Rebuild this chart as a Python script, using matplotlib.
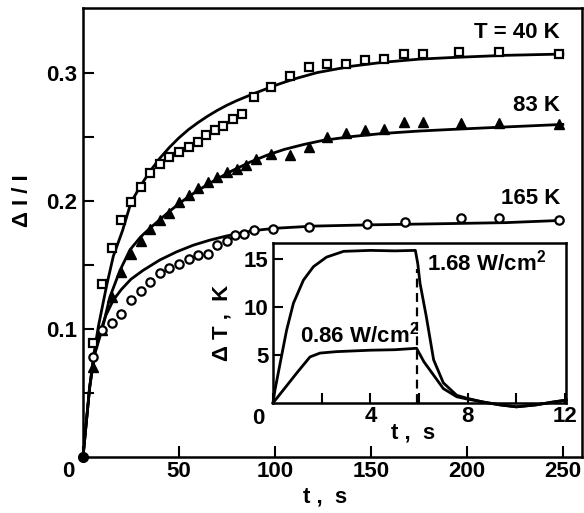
import matplotlib
matplotlib.use("Agg")
import matplotlib.pyplot as plt
import matplotlib.transforms as mtransforms

plt.rcParams['font.family'] = ['Liberation Sans', 'DejaVu Sans']
plt.rcParams['font.weight'] = 'bold'
plt.rcParams['font.size'] = 16
plt.rcParams['mathtext.fontset'] = 'custom'
plt.rcParams['mathtext.rm'] = 'Liberation Sans:bold'
plt.rcParams['mathtext.bf'] = 'Liberation Sans:bold'
plt.rcParams['mathtext.it'] = 'Liberation Sans:bold'
plt.rcParams['mathtext.default'] = 'rm'

# ---- main panel: relative photocurrent change vs time ----
t40 = [5, 10, 15, 20, 25, 30, 35, 40, 45, 50, 55, 60, 64, 69, 73, 78, 83, 89, 98, 108,
       118, 127, 137, 147, 157, 167, 177, 196, 217, 248]
v40 = [0.089, 0.135, 0.163, 0.185, 0.1995, 0.211, 0.222, 0.229, 0.2346, 0.2385, 0.2424,
       0.2463, 0.2516, 0.2555, 0.259, 0.2646, 0.2685, 0.2815, 0.2893, 0.298,
       0.3045, 0.307, 0.3076, 0.3106, 0.3114, 0.3148, 0.3148, 0.3166, 0.3166, 0.3154]

t83 = [5, 10, 15, 20, 25, 30, 35, 40, 45, 50, 55, 60, 65, 70, 75, 80, 85, 90, 98, 108,
       118, 127, 137, 147, 157, 167, 177, 197, 217, 248]
v83 = [0.07, 0.099, 0.125, 0.145, 0.159, 0.169, 0.178, 0.185, 0.191, 0.199, 0.205, 0.21,
       0.215, 0.219, 0.223, 0.2255, 0.228, 0.233, 0.237, 0.236,
       0.242, 0.2503, 0.2529, 0.2555, 0.2568, 0.262, 0.262, 0.261, 0.261, 0.26]

t165 = [5, 10, 15, 20, 25, 30, 35, 40, 45, 50, 55, 60, 65, 70, 75, 79, 84, 89, 99,
        118, 148, 168, 197, 217, 248]
v165 = [0.078, 0.099, 0.1044, 0.112, 0.1227, 0.13, 0.137, 0.1438, 0.148, 0.151, 0.155,
        0.158, 0.159, 0.1656, 0.169, 0.1735, 0.174, 0.1773, 0.178,
        0.18, 0.1825, 0.1838, 0.1865, 0.1865, 0.185]

# fitted curves
fit40_t = [0, 3.3, 5.4, 8, 12.3, 15.8, 20.6, 25, 30, 35, 40, 45, 50, 55, 60, 65, 70, 75,
           80, 88, 95, 102, 110, 122, 140, 156, 175, 191, 220, 250]
fit40_v = [0, 0.052, 0.078, 0.102, 0.134, 0.157, 0.177, 0.199, 0.212, 0.2235, 0.2335,
           0.242, 0.2495, 0.256, 0.2615, 0.2665, 0.271, 0.275, 0.2785, 0.2835, 0.2875,
           0.2915, 0.2955, 0.3005, 0.3055, 0.3085, 0.311, 0.3122, 0.314, 0.315]

fit83_t = [0, 3.5, 6, 10, 14, 19.3, 24.5, 30, 35, 40, 45, 50, 55, 60, 65, 70, 78, 87, 96,
           105, 115, 125, 140, 156, 175, 191, 220, 250]
fit83_v = [0, 0.055, 0.08, 0.1, 0.125, 0.146, 0.162, 0.172, 0.179, 0.1855, 0.192, 0.198,
           0.2035, 0.2085, 0.213, 0.2175, 0.224, 0.2305, 0.236, 0.2405, 0.2443, 0.2475,
           0.2505, 0.2529, 0.2548, 0.256, 0.258, 0.26]

fit165_t = [0, 3.5, 6, 9, 12, 15.8, 20, 25, 31.4, 40, 48.8, 57.5, 66, 74.8, 85.3, 92, 100,
            120, 150, 180, 220, 250]
fit165_v = [0, 0.055, 0.08, 0.098, 0.111, 0.1227, 0.131, 0.139, 0.146, 0.154, 0.1604,
            0.1656, 0.1695, 0.1728, 0.176, 0.1775, 0.1788, 0.1805, 0.1815, 0.1822, 0.1832,
            0.185]

x_ticks = [0, 50, 100, 150, 200, 250]
y_ticks = [0.05, 0.1, 0.15, 0.2, 0.25, 0.3]
y_tick_labels = ["", "0.1", "", "0.2", "", "0.3"]
labels_T = ["T = 40 K", "83 K", "165 K"]
label_T_y = [0.332, 0.275, 0.2023]

# ---- inset: temperature rise during the light pulse ----
ins_hi_t = [0, 0.08, 0.29, 0.56, 0.84, 1.25, 1.66, 2.2, 2.9, 4.0, 5.0, 5.85, 5.95, 6.04,
            6.3, 6.6, 7.0, 7.55, 7.96, 8.64, 9.34, 10.0, 10.8, 11.5, 12.05]
ins_hi_k = [0, 1.35, 4.1, 7.6, 10.4, 12.8, 14.2, 15.2, 15.8, 15.9, 15.85, 15.9, 14.5, 12.5,
            9.0, 4.5, 2.1, 0.8, 0.5, 0.1, -0.2, -0.4, -0.2, 0.1, 0.3]
ins_lo_t = [0, 0.5, 1.0, 1.52, 1.93, 2.6, 4.0, 5.0, 5.9, 6.2, 6.6, 7.0, 7.55, 8.0, 8.64,
            9.34, 10.0, 10.8, 11.5, 12.05]
ins_lo_k = [0, 1.6, 3.2, 4.8, 5.2, 5.35, 5.5, 5.55, 5.7, 4.3, 2.9, 1.5, 0.65, 0.4, 0.1,
            -0.2, -0.4, -0.2, 0.1, 0.3]
pulse_end = 5.9
ins_x_ticks = [0, 2, 4, 6, 8, 10, 12]
ins_x_labels = ["", "", "4", "", "8", "", "12"]
ins_y_ticks = [5, 10, 15]
power_labels = [r"1.68 W/cm$^{2}$", r"0.86 W/cm$^{2}$"]

fig = plt.figure(figsize=(5.84, 5.13), dpi=100)
ax = fig.add_axes([83 / 584, 1 - 457 / 513, (582 - 83) / 584, (457 - 8) / 513])

lw = 2.0
ax.plot(fit40_t, fit40_v, color='black', lw=lw, zorder=2)
ax.plot(fit83_t, fit83_v, color='black', lw=lw, zorder=2)
ax.plot(fit165_t, fit165_v, color='black', lw=lw, zorder=2)
ax.plot(t40, v40, ls='none', marker='s', ms=5.5, mfc='white', mec='black', mew=1.6, zorder=3)
ax.plot(t83, v83, ls='none', marker='^', ms=6.5, mfc='black', mec='black', mew=1.0, zorder=3)
ax.plot(t165, v165, ls='none', marker='o', ms=6, mfc='white', mec='black', mew=1.6, zorder=3)
ax.plot([0], [0], ls='none', marker='o', ms=7, color='black', zorder=4, clip_on=False)

ax.set_xlim(0, 260)
ax.set_ylim(0, 0.351)
ax.set_xticks(x_ticks)
ax.set_xticklabels([''] + [str(v) for v in x_ticks[1:]])
ax.set_yticks(y_ticks)
ax.set_yticklabels(y_tick_labels)
ax.minorticks_off()
ax.xaxis.set_tick_params(direction='in', length=8, width=1.5, pad=3, top=False)
ax.yaxis.set_tick_params(direction='in', length=8, width=1.5, pad=4, right=False)
for s in ax.spines.values():
    s.set_linewidth(1.8)

# origin label, set a little to the left of the corner
off = mtransforms.offset_copy(ax.get_xaxis_transform(), fig=fig, x=0, y=-3, units='points')
ax.text(-7.5, 0, "0", transform=off, ha='center', va='top')

for lab, yv in zip(labels_T, label_T_y):
    ax.text(248.5, yv, lab, ha='right', va='center')

ax.text(0.485, -0.089, "t ,  s", transform=ax.transAxes, ha='center', va='center')
ax.text(-0.122, 0.57, "Δ I / I", transform=ax.transAxes, ha='center', va='center',
        rotation=90)

# ---- inset ----
ins = fig.add_axes([273 / 584, 1 - 403 / 513, (566 - 273) / 584, (403 - 243) / 513])
ins.set_zorder(5)
ins.set_facecolor('white')
ins.plot(ins_hi_t, ins_hi_k, color='black', lw=lw, clip_on=False)
ins.plot(ins_lo_t, ins_lo_k, color='black', lw=lw, clip_on=False)
ins.plot([pulse_end, pulse_end], [0, 14], color='black', lw=1.6, ls=(0, (4, 2.5)))
ins.set_xlim(0, 12.04)
ins.set_ylim(0, 16.67)
ins.set_xticks(ins_x_ticks)
ins.set_xticklabels(ins_x_labels)
ins.set_yticks(ins_y_ticks)
ins.set_yticklabels([str(v) for v in ins_y_ticks])
ins.minorticks_off()
ins.xaxis.set_tick_params(direction='in', length=7, width=1.5, pad=2, top=False)
ins.yaxis.set_tick_params(direction='in', length=7, width=1.5, pad=3, right=False)
for s in ins.spines.values():
    s.set_linewidth(1.8)

ins.text(-0.03, -0.03, "0", transform=ins.transAxes, ha='right', va='top')
ins.text(6.33, 14.6, power_labels[0], ha='left', va='center')
ins.text(1.1, 7.1, power_labels[1], ha='left', va='center')
ins.text(0.478, -0.19, "t ,  s", transform=ins.transAxes, ha='center', va='center')
ins.text(-0.174, 0.5, "Δ T ,  K", transform=ins.transAxes, ha='center', va='center',
         rotation=90)

fig.savefig("out.png", dpi=100)
